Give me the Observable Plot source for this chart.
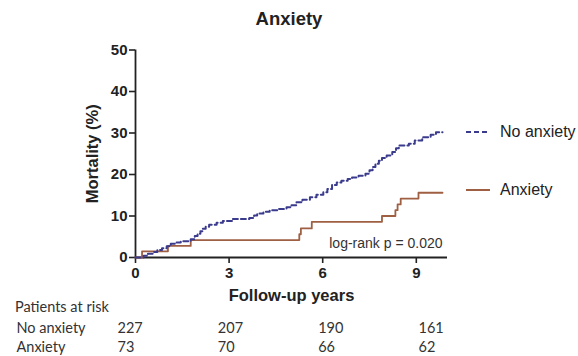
<!DOCTYPE html>
<html>
<head>
<meta charset="utf-8">
<script src="https://cdn.jsdelivr.net/npm/d3@7"></script>
<script src="https://cdn.jsdelivr.net/npm/@observablehq/plot@0.6"></script>
<style>
  body { margin: 0; background: #fff; }
  #wrap { position: relative; width: 578px; height: 356px; overflow: hidden; font-family: "Liberation Sans", Arial, sans-serif; }
  #title { position: absolute; left: 0; top: 8px; width: 578px; text-align: center; font-weight: bold; font-size: 18.5px; color: #222; }
  #main { position: absolute; left: 0; top: 0; }
  #risk { position: absolute; left: 0; top: 317px; }
  #riskhead { position: absolute; left: 15px; top: 298px; font-family: Lato, "Open Sans", sans-serif; font-size: 14.5px; color: #333; }
  .legend { position: absolute; left: 466px; font-size: 16px; color: #222; display: flex; align-items: center; }
  .legend svg { margin-right: 10px; }
  g[aria-label="y-axis label"], g[aria-label="x-axis label"] { font-size: 16.5px; font-weight: bold; }
</style>
</head>
<body>
<div id="wrap">
  <div id="title">Anxiety</div>
  <div id="main"></div>
  <div id="riskhead">Patients at risk</div>
  <div id="risk"></div>
  <div class="legend" style="top:123px"><svg width="24" height="6"><line x1="0" x2="24" y1="3" y2="3" stroke="#3b3b8e" stroke-width="2" stroke-dasharray="5,3"/></svg>No anxiety</div>
  <div class="legend" style="top:181px"><svg width="24" height="6"><line x1="0" x2="24" y1="3" y2="3" stroke="#9e5f42" stroke-width="2"/></svg>Anxiety</div>
</div>
<script>
// No anxiety cumulative mortality (%), step points
const noAnxTime = [0, 0.26, 0.4, 0.55, 0.7, 0.85, 1.0, 1.13, 1.3, 1.45, 1.77, 1.9, 1.99, 2.08, 2.15, 2.25, 2.36, 2.6, 2.8, 3.1, 3.65, 3.8, 3.9, 4.1, 4.3, 4.6, 4.84, 5.0, 5.16, 5.35, 5.59, 5.8, 6.02, 6.15, 6.3, 6.45, 6.6, 6.8, 6.94, 7.15, 7.37, 7.5, 7.6, 7.69, 7.8, 7.9, 8.05, 8.23, 8.35, 8.44, 8.76, 8.95, 9.19, 9.46, 9.63, 9.84];
const noAnxMort = [0, 0.4, 0.9, 1.3, 1.8, 2.2, 2.7, 3.3, 3.6, 3.9, 4.4, 5.2, 5.7, 6.3, 6.9, 7.4, 7.9, 8.4, 8.8, 9.3, 9.5, 10.1, 10.6, 11.0, 11.4, 11.7, 12.1, 12.6, 13.3, 13.9, 14.5, 15.1, 15.7, 16.5, 17.5, 18.1, 18.5, 18.9, 19.3, 19.7, 20.2, 21.0, 21.8, 22.6, 23.3, 24.0, 24.6, 25.4, 26.3, 27.0, 27.4, 28.2, 29.0, 29.6, 30.2, 30.2];
// Anxiety cumulative mortality (%)
const anxTime = [0, 0.21, 1.04, 1.77, 5.25, 5.3, 5.65, 7.9, 8.33, 8.4, 8.5, 9.07, 9.84];
const anxMort = [0, 1.5, 2.8, 4.2, 5.6, 7.0, 8.6, 10.0, 11.4, 12.8, 14.2, 15.6, 15.6];

const xTicks = [0, 3, 6, 9];
const yTicks = [0, 10, 20, 30, 40, 50];
const pValueText = "log-rank p = 0.020";

// Patients at risk
const riskGroups = ["No anxiety", "Anxiety"];
const riskYears = [0, 3, 6, 9];
const riskNoAnx = [227, 207, 190, 161];
const riskAnx = [73, 70, 66, 62];

const noAnx = noAnxTime.map((t, i) => ({t, m: noAnxMort[i]}));
const anx = anxTime.map((t, i) => ({t, m: anxMort[i]}));

const ink = "#222";
const main = Plot.plot({
  width: 578, height: 310,
  marginTop: 49.5, marginBottom: 53, marginLeft: 135, marginRight: 131,
  style: {fontFamily: "'Liberation Sans', Arial, sans-serif", color: ink, overflow: "visible"},
  x: {domain: [0, 10]},
  y: {domain: [0, 50]},
  marks: [
    Plot.axisY({ticks: yTicks, tickSize: 6, tickPadding: 2, fontSize: 15, fontWeight: "bold", strokeWidth: 1.6,
      label: "Mortality (%)", labelAnchor: "center", labelOffset: 49, labelArrow: "none"}),
    Plot.axisX({ticks: xTicks, tickSize: 6, tickPadding: 4, fontSize: 15, fontWeight: "bold", strokeWidth: 1.6,
      label: "Follow-up years", labelAnchor: "center", labelOffset: 43, labelArrow: "none"}),
    Plot.ruleX([0], {stroke: ink, strokeWidth: 1.8}),
    Plot.ruleY([0], {stroke: ink, strokeWidth: 1.8}),
    Plot.line(anx, {x: "t", y: "m", curve: "step-after", stroke: "#9e5f42", strokeWidth: 1.8}),
    Plot.line(noAnx, {x: "t", y: "m", curve: "step-after", stroke: "#3b3b8e", strokeWidth: 2, strokeDasharray: "5,3"}),
    Plot.text([pValueText], {frameAnchor: "bottom-right", dx: -5, dy: -14, lineAnchor: "middle", fontSize: 14, fill: "#333"})
  ]
});
document.getElementById("main").appendChild(main);

const riskRows = [];
riskYears.forEach((yr, i) => {
  riskRows.push({yr, g: riskGroups[0], n: riskNoAnx[i]});
  riskRows.push({yr, g: riskGroups[1], n: riskAnx[i]});
});
const risk = Plot.plot({
  width: 578, height: 39,
  marginLeft: 16, marginRight: 0, marginTop: 0, marginBottom: 0,
  style: {fontFamily: "Lato, 'Open Sans', sans-serif", color: "#333"},
  x: {domain: [0, 9], range: [117, 418], axis: null},
  y: {type: "point", domain: riskGroups, range: [11, 30], padding: 0, axis: null},
  marks: [
    Plot.text(riskGroups, {y: d => d, text: d => d, frameAnchor: "left", textAnchor: "start", fontSize: 14.5, fill: "#333"}),
    Plot.text(riskRows, {x: "yr", y: "g", text: "n", textAnchor: "start", fontSize: 14.5, fill: "#333"})
  ]
});
document.getElementById("risk").appendChild(risk);
</script>
</body>
</html>
